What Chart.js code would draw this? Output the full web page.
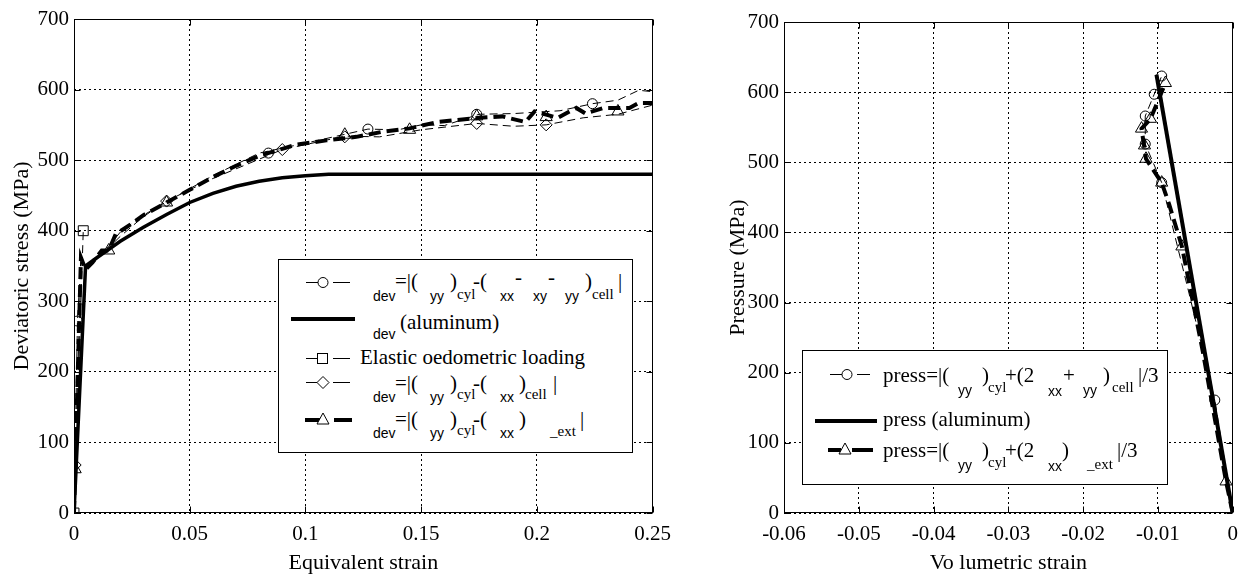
<!DOCTYPE html>
<html><head><meta charset="utf-8">
<script src="https://cdn.jsdelivr.net/npm/chart.js@4/dist/chart.umd.min.js"></script>
<style>
html,body{margin:0;padding:0;background:#fff;width:1247px;height:581px;overflow:hidden;position:relative}
canvas{position:absolute;top:0}
#c1{left:0} #c2{left:700px}
svg{position:absolute;left:0;top:0}
.t{position:absolute;white-space:nowrap;line-height:1;color:#000}
.m{font-family:"Liberation Serif","Times New Roman",Tinos,"DejaVu Serif",serif;font-size:21px}
.s{font-family:"Liberation Sans",Arial,Arimo,"DejaVu Sans",sans-serif;font-size:14px}
.r{font-family:"Liberation Serif","Times New Roman",Tinos,"DejaVu Serif",serif;font-size:15px}
</style></head><body>
<canvas id="c1" width="680" height="581"></canvas>
<canvas id="c2" width="547" height="581"></canvas>
<svg id="lg" width="1247" height="581"></svg>
<div id="txt"></div>
<script>
// ================= DATA =================
// Left chart: deviatoric stress (MPa) vs equivalent strain
const leftXTicks = [0, 0.05, 0.1, 0.15, 0.2, 0.25];
const leftXLabels = ['0', '0.05', '0.1', '0.15', '0.2', '0.25'];
const leftYTicks = [0, 100, 200, 300, 400, 500, 600, 700];
const leftYLabels = ['0', '100', '200', '300', '400', '500', '600', '700'];

// sigma_dev (aluminum)
const alumX = [0, 0.005, 0.01, 0.02, 0.03, 0.04, 0.05, 0.06, 0.07, 0.08, 0.09, 0.1, 0.11, 0.12, 0.25];
const alumY = [0, 350, 362, 385, 405, 423, 440, 453, 463, 470, 475, 478, 480, 480, 480];

// sigma_dev = |(yy)cyl - (xx - xy - yy)cell|  (circles)
const circX = [0, 0.0015, 0.003, 0.005, 0.01, 0.015, 0.02, 0.03, 0.04, 0.06, 0.08, 0.1, 0.127, 0.14, 0.15, 0.16, 0.175, 0.19, 0.2, 0.21, 0.224, 0.235, 0.244, 0.25];
const circY = [0, 272, 362, 345, 362, 378, 398, 422, 441, 478, 510, 524, 544, 543, 550, 549, 565, 566, 568, 570, 580, 585, 599, 597];
const circMX = [0.0015, 0.084, 0.127, 0.174, 0.224];
const circMY = [272, 510, 544, 565, 580];

// Elastic oedometric loading (squares)
const sqX = [0, 0.004];
const sqY = [0, 400];

// sigma_dev = |(yy)cyl - (xx)cell|  (diamonds)
const diaX = [0, 0.0005, 0.003, 0.005, 0.01, 0.02, 0.03, 0.04, 0.06, 0.09, 0.117, 0.132, 0.15, 0.174, 0.19, 0.204, 0.22, 0.235, 0.25];
const diaY = [0, 68, 355, 345, 360, 392, 420, 442, 474, 515, 534, 533, 543, 552, 548, 550, 560, 565, 578];
const diaMX = [0.0005, 0.04, 0.09, 0.117, 0.174, 0.204];
const diaMY = [68, 442, 515, 533, 552, 550];

// sigma_dev = |(yy)cyl - (xx)_ext|  (triangles, thick dashed)
const triX = [0, 0.0005, 0.003, 0.005, 0.008, 0.012, 0.015, 0.018, 0.025, 0.03, 0.04, 0.05, 0.06, 0.07, 0.08, 0.09, 0.096, 0.109, 0.122, 0.133, 0.145, 0.157, 0.175, 0.185, 0.195, 0.199, 0.209, 0.217, 0.221, 0.229, 0.24, 0.244, 0.25];
const triY = [0, 65, 362, 345, 355, 372, 372, 395, 410, 422, 440, 458, 476, 492, 506, 516, 522, 528, 533, 540, 545, 554, 560, 562, 554, 569, 560, 574, 566, 574, 574, 581, 581];
const triMX = [0.0005, 0.015, 0.04, 0.117, 0.145, 0.174, 0.204, 0.235];
const triMY = [62, 372, 440, 536, 543, 562, 561, 569];

// Right chart: pressure (MPa) vs volumetric strain
const rightXTicks = [-0.06, -0.05, -0.04, -0.03, -0.02, -0.01, 0];
const rightXLabels = ['-0.06', '-0.05', '-0.04', '-0.03', '-0.02', '-0.01', '0'];
const rightYTicks = [0, 100, 200, 300, 400, 500, 600, 700];
const rightYLabels = ['0', '100', '200', '300', '400', '500', '600', '700'];

// press (aluminum)
const pAlumX = [0, -0.0102];
const pAlumY = [0, 625];
// press = |(yy)cyl + (2 xx + yy)cell|/3  (circles)
const pCircX = [0, -0.0024, -0.006, -0.0095, -0.0117, -0.0117, -0.0105, -0.0095];
const pCircY = [0, 161, 320, 471, 526, 566, 597, 623];
const pCircMX = [-0.0095, -0.0105, -0.0117, -0.0117, -0.0095, -0.0024];
const pCircMY = [623, 597, 566, 526, 471, 161];
// press = |(yy)cyl + (2 xx)_ext|/3  (triangles)
const pTriX = [0, -0.0009, -0.004, -0.0068, -0.0085, -0.0095, -0.0116, -0.0122, -0.011, -0.009];
const pTriY = [0, 45, 230, 380, 440, 471, 505, 548, 562, 613];
const pTriMX = [-0.0009, -0.0068, -0.0095, -0.0116, -0.0118, -0.0122, -0.011, -0.009];
const pTriMY = [45, 380, 471, 505, 524, 548, 562, 613];

// ================= CHARTS =================
const pts = (xs, ys) => xs.map((x, i) => ({x: x, y: ys[i]}));
function lineDS(xs, ys, w, dash) {
  return {data: pts(xs, ys), showLine: true, borderColor: '#000', borderWidth: w, borderDash: dash,
    pointRadius: 0, pointHoverRadius: 0, fill: false, tension: 0, borderCapStyle: 'butt'};
}
function markDS(xs, ys, style, r) {
  return {data: pts(xs, ys), showLine: false, pointStyle: style, pointRadius: r, pointHoverRadius: r,
    pointBorderColor: '#000', pointBackgroundColor: 'rgba(255,255,255,0)', pointBorderWidth: 1};
}
const frame = {
  id: 'frame',
  afterDraw(c) {
    const {ctx, chartArea: a, scales: {x, y}} = c;
    ctx.save();
    ctx.strokeStyle = '#000'; ctx.lineWidth = 1; ctx.setLineDash([]);
    const L = Math.round(a.left) + 0.5, R = Math.round(a.right) - 0.5;
    const T = Math.round(a.top) + 0.5, B = Math.round(a.bottom) - 0.5;
    ctx.strokeRect(L, T, R - L, B - T);
    ctx.beginPath();
    x.ticks.forEach(t => { const p = Math.round(x.getPixelForValue(t.value)) + 0.5;
      ctx.moveTo(p, B); ctx.lineTo(p, B - 6); ctx.moveTo(p, T); ctx.lineTo(p, T + 6); });
    y.ticks.forEach(t => { const p = Math.round(y.getPixelForValue(t.value)) + 0.5;
      ctx.moveTo(L, p); ctx.lineTo(L + 6, p); ctx.moveTo(R, p); ctx.lineTo(R - 6, p); });
    ctx.stroke();
    ctx.restore();
  }
};
const SERIF = "'Liberation Serif', 'Times New Roman', Tinos, 'DejaVu Serif', serif";
const tickFont = {family: SERIF, size: 21};
const titleFont = {family: SERIF, size: 22};
function makeChart(el, cfg) {
  return new Chart(el, {
    type: 'scatter',
    data: {datasets: cfg.datasets},
    options: {
      responsive: false, animation: false, devicePixelRatio: 1, events: [],
      layout: {padding: cfg.pad},
      plugins: {legend: {display: false}, tooltip: {enabled: false}},
      scales: {
        x: {
          type: 'linear', min: cfg.xTicks[0], max: cfg.xTicks[cfg.xTicks.length - 1],
          afterBuildTicks: s => { s.ticks = cfg.xTicks.map(v => ({value: v})); },
          ticks: {callback: (v, i) => cfg.xLabels[i], font: tickFont, color: '#000', padding: 9, maxRotation: 0, autoSkip: false},
          grid: {color: '#000', lineWidth: 1, drawTicks: false},
          border: {display: false, dash: [2, 3]},
          title: {display: true, text: cfg.xTitle, font: titleFont, color: '#000', padding: {top: 0, bottom: 5}},
          afterFit: s => { s.height = 68; }
        },
        y: {
          type: 'linear', min: cfg.yTicks[0], max: cfg.yTicks[cfg.yTicks.length - 1],
          afterBuildTicks: s => { s.ticks = cfg.yTicks.map(v => ({value: v})); },
          ticks: {callback: (v, i) => cfg.yLabels[i], font: tickFont, color: '#000', padding: 5, autoSkip: false},
          grid: {color: '#000', lineWidth: 1, drawTicks: false},
          border: {display: false, dash: [2, 3]},
          title: {display: true, text: cfg.yTitle, font: titleFont, color: '#000', padding: {top: cfg.yTitlePad, bottom: 0}},
          afterFit: s => { s.width = cfg.yWidth; }
        }
      }
    },
    plugins: [frame]
  });
}

function draw() {
makeChart(document.getElementById('c1'), {
  xTicks: leftXTicks, xLabels: leftXLabels, yTicks: leftYTicks, yLabels: leftYLabels,
  xTitle: 'Equivalent strain', yTitle: 'Deviatoric stress (MPa)', yTitlePad: 9, yWidth: 74,
  pad: {left: 0, right: 20, top: 19, bottom: 0},
  datasets: [
    lineDS(sqX, sqY, 1, [8, 5]),
    lineDS(circX, circY, 1, [8, 5]),
    lineDS(diaX, diaY, 1, [8, 5]),
    lineDS(triX, triY, 4, [12, 6]),
    lineDS(alumX, alumY, 3.5, []),
    markDS(sqX, sqY, 'rect', 7),
    markDS(circMX, circMY, 'circle', 5),
    markDS(diaMX, diaMY, 'rectRot', 6),
    markDS(triMX, triMY, 'triangle', 7)
  ]
});

makeChart(document.getElementById('c2'), {
  xTicks: rightXTicks, xLabels: rightXLabels, yTicks: rightYTicks, yLabels: rightYLabels,
  xTitle: 'Vo lumetric strain', yTitle: 'Pressure (MPa)', yTitlePad: 25, yWidth: 84,
  pad: {left: 0, right: 12, top: 22, bottom: 0},
  datasets: [
    lineDS(pCircX, pCircY, 1, [8, 5]),
    lineDS(pTriX, pTriY, 4, [12, 6]),
    lineDS(pAlumX, pAlumY, 4, []),
    markDS(pCircMX, pCircMY, 'circle', 5),
    markDS(pTriMX, pTriMY, 'triangle', 7)
  ]
});
}

// ================= LEGENDS =================
const NS = 'http://www.w3.org/2000/svg';
const svg = document.getElementById('lg');
function el(tag, attrs) { const e = document.createElementNS(NS, tag); for (const k in attrs) e.setAttribute(k, attrs[k]); svg.appendChild(e); return e; }
function ln(x1, x2, y, w) { el('line', {x1: x1, x2: x2, y1: y, y2: y, stroke: '#000', 'stroke-width': w}); }
function mark(kind, cx, cy) {
  const a = {fill: '#fff', stroke: '#000', 'stroke-width': 1};
  if (kind === 'circle') el('circle', Object.assign({cx: cx, cy: cy, r: 5}, a));
  if (kind === 'square') el('rect', Object.assign({x: cx - 5, y: cy - 5, width: 10, height: 10}, a));
  if (kind === 'diamond') el('polygon', Object.assign({points: `${cx},${cy - 6} ${cx + 6},${cy} ${cx},${cy + 6} ${cx - 6},${cy}`}, a));
  if (kind === 'triangle') el('polygon', Object.assign({points: `${cx},${cy - 7} ${cx + 6},${cy + 4} ${cx - 6},${cy + 4}`}, a));
}
// left legend box
el('rect', {x: 278.5, y: 259.5, width: 354, height: 193, fill: '#fff', stroke: '#000', 'stroke-width': 1});
ln(306, 318, 282.5, 1); ln(333, 350, 282.5, 1); mark('circle', 323, 282.5);
ln(291, 355, 319, 4);
ln(306, 318, 358.5, 1); ln(333, 350, 358.5, 1); mark('square', 322.5, 358.5);
ln(306, 318, 382.5, 1); ln(333, 350, 382.5, 1); mark('diamond', 323, 382.5);
ln(305, 320, 420, 4); ln(334, 352, 420, 4); mark('triangle', 323, 420);
// right legend box
el('rect', {x: 802.5, y: 350.5, width: 365, height: 134, fill: '#fff', stroke: '#000', 'stroke-width': 1});
ln(830, 842, 374.5, 1); ln(857, 870, 374.5, 1); mark('circle', 847, 374.5);
ln(815, 877, 421, 4);
ln(828, 841, 450, 4); ln(852, 873, 450, 4); mark('triangle', 845, 450);

// text fragments: [x, baseline, text, class]
const K = {m: 0.8375 * 21, s: 0.8465 * 14, r: 0.8375 * 15};
const frags = [
  [373, 301, 'dev', 's'], [395, 289, '=|(', 'm'], [430, 301, 'yy', 's'], [450, 289, ')', 'm'], [457, 300, 'cyl', 'r'],
  [473, 289, '-(', 'm'], [500, 301, 'xx', 's'], [515, 285, '-', 'm'], [533, 301, 'xy', 's'], [548, 285, '-', 'm'],
  [565, 301, 'yy', 's'], [585, 289, ')', 'm'], [592, 300, 'cell', 'r'], [618, 289, '|', 'm'],
  [373, 339, 'dev', 's'], [400, 330, '(aluminum)', 'm'],
  [360, 365, 'Elastic oedometric loading', 'm'],
  [373, 402, 'dev', 's'], [395, 391, '=|(', 'm'], [430, 402, 'yy', 's'], [450, 391, ')', 'm'], [457, 400, 'cyl', 'r'],
  [473, 391, '-(', 'm'], [500, 402, 'xx', 's'], [519, 391, ')', 'm'], [525, 400, 'cell', 'r'], [553, 391, '|', 'm'],
  [373, 438, 'dev', 's'], [395, 427, '=|(', 'm'], [430, 438, 'yy', 's'], [450, 427, ')', 'm'], [457, 436, 'cyl', 'r'],
  [473, 427, '-(', 'm'], [500, 438, 'xx', 's'], [519, 427, ')', 'm'], [550, 437, '_ext', 'r'], [580, 427, '|', 'm'],
  [883, 383, 'press=|(', 'm'], [958, 395, 'yy', 's'], [982, 383, ')', 'm'], [988, 393, 'cyl', 'r'], [1005, 383, '+(2', 'm'],
  [1048, 396, 'xx', 's'], [1063, 383, '+', 'm'], [1083, 395, 'yy', 's'], [1103, 383, ')', 'm'], [1112, 393, 'cell', 'r'],
  [1138, 383, '|/3', 'm'],
  [883, 427, 'press (aluminum)', 'm'],
  [883, 458, 'press=|(', 'm'], [958, 470, 'yy', 's'], [982, 458, ')', 'm'], [988, 468, 'cyl', 'r'], [1005, 458, '+(2', 'm'],
  [1048, 471, 'xx', 's'], [1062, 458, ')', 'm'], [1087, 470, '_ext', 'r'], [1117, 458, '|/3', 'm']
];
const box = document.getElementById('txt');
frags.forEach(f => {
  const d = document.createElement('div');
  d.className = 't ' + f[3];
  d.style.left = f[0] + 'px';
  d.style.top = (f[1] - K[f[3]]) + 'px';
  d.textContent = f[2];
  box.appendChild(d);
});

if (document.fonts && document.fonts.load) {
  Promise.all([document.fonts.load("21px 'Liberation Serif'"), document.fonts.load("14px 'Liberation Sans'")])
    .then(draw, draw);
} else { draw(); }
</script>
</body></html>
